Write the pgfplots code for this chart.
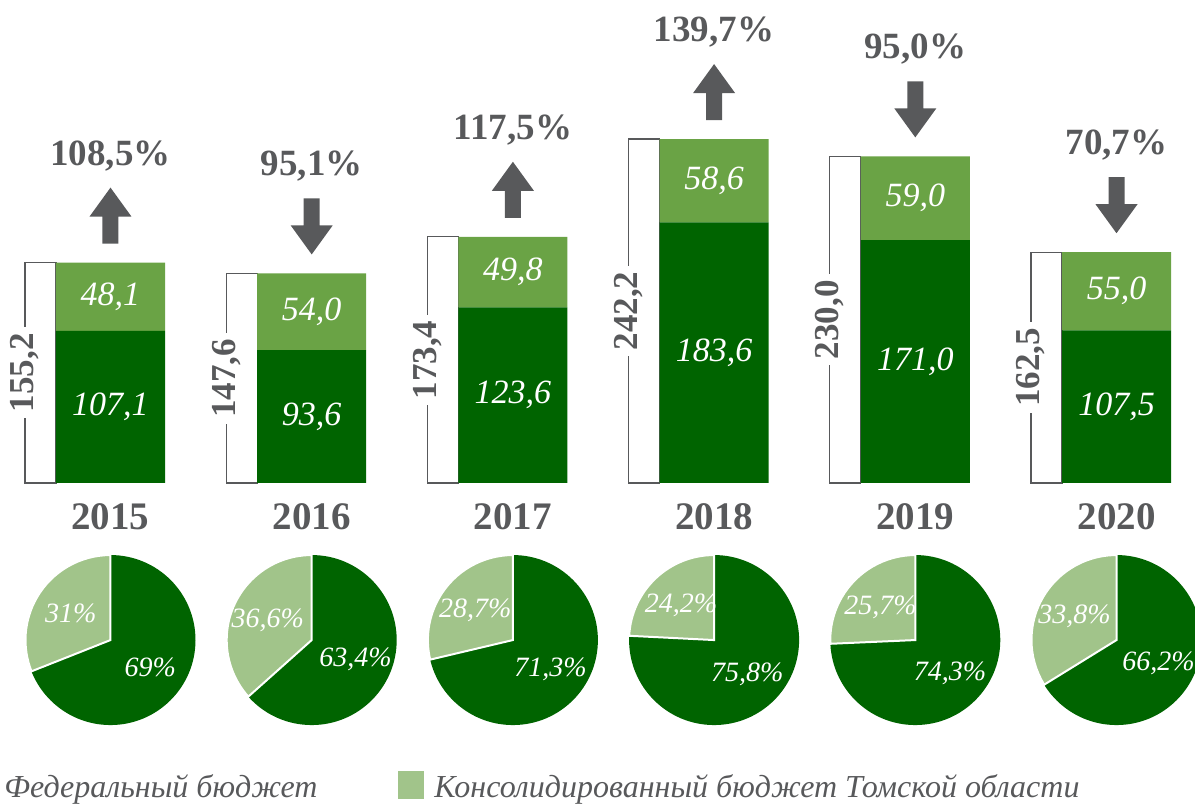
\documentclass[border=0pt]{standalone}
\usepackage{pgfplots}
\pgfplotsset{compat=1.18}
\usepackage{fontspec}
\setmainfont{Liberation Serif}

\definecolor{dkgreen}{HTML}{006400}
\definecolor{mdgreen}{HTML}{6AA345}
\definecolor{ltgreen}{HTML}{A1C48A}
\definecolor{txtgray}{HTML}{58595B}

% #1 position, #2 regional share (%), #3 light label, #4 dark label
\newcommand{\pie}[4]{%
  \fill[dkgreen] (axis cs:#1,-110.6) circle[radius=42.5pt];
  \filldraw[fill=ltgreen, draw=white, line width=1pt]
    (axis cs:#1,-110.6) -- ++(0pt,42.5pt)
    arc[start angle=90, end angle={90+3.6*#2}, radius=42.5pt] -- cycle;
  \node[pielbl] at ([shift={({90+1.8*#2}:24pt)}]axis cs:#1,-110.6) {#3};
  \node[pielbl] at ([shift={({270+1.8*#2}:24pt)}]axis cs:#1,-110.6) {#4};
}
% #1 position, #2 total, #3 label
\newcommand{\uparr}[3]{%
  \fill[txtgray] (axis cs:#1,#2) ++(-4pt,9.5pt) -- ++(8pt,0pt) -- ++(0pt,13.5pt)
    -- ++(6.5pt,0pt) -- ++(-10.5pt,14.5pt) -- ++(-10.5pt,-14.5pt) -- ++(6.5pt,0pt) -- cycle;
  \node[pct] at ([yshift=53.5pt]axis cs:#1,#2) {#3};
}
\newcommand{\dnarr}[3]{%
  \fill[txtgray] (axis cs:#1,#2) ++(-4pt,37.5pt) -- ++(8pt,0pt) -- ++(0pt,-13.5pt)
    -- ++(6.5pt,0pt) -- ++(-10.5pt,-14.5pt) -- ++(-10.5pt,14.5pt) -- ++(6.5pt,0pt) -- cycle;
  \node[pct] at ([yshift=53.5pt]axis cs:#1,#2) {#3};
}

\pgfplotstableread{
x federal regional total
0 107.1 48.1 155.2
1 93.6  54.0 147.6
2 123.6 49.8 173.4
3 183.6 58.6 242.2
4 171.0 59.0 230.0
5 107.5 55.0 162.5
}\budget

\pgfplotsset{frame/.style={hide axis, clip=false, scale only axis,
  width=597.5pt, height=402.5pt,
  xmin=-0.5492, xmax=5.3902, ymin=-226.76, ymax=340.14,
  anchor=south west, at={(0pt,0pt)}}}

\begin{document}
\begin{tikzpicture}[
  pct/.style={font=\fontsize{18.5}{21}\selectfont\bfseries, text=txtgray},
  yr/.style={font=\fontsize{19.5}{22}\selectfont\bfseries, text=txtgray},
  barlbl/.style={font=\fontsize{17}{20}\selectfont\itshape, text=white},
  pielbl/.style={font=\fontsize{14}{17}\selectfont\itshape, text=white},
  tot/.style={font=\fontsize{17.5}{20}\selectfont\bfseries, text=txtgray,
    rotate=90, fill=white, inner sep=3pt},
  leg/.style={anchor=base west, inner sep=0, text=txtgray,
    font=\fontsize{16}{19}\selectfont\itshape}]

% bracket boxes behind the bars
\begin{axis}[frame, ybar, bar width=15.5pt, bar shift=-35pt]
\addplot[fill=white, draw=txtgray, line width=0.6pt] table[x=x, y=total] {\budget};
\end{axis}

% stacked bars
\begin{axis}[frame, ybar stacked, bar width=54.5pt]
\addplot[fill=dkgreen, draw=none] table[x=x, y=federal] {\budget};
\addplot[fill=mdgreen, draw=none] table[x=x, y=regional] {\budget};
\end{axis}

% labels, arrows, pies, legend
\begin{axis}[frame]
\node[barlbl] at (axis cs:0,53.55) {107,1};
\node[barlbl] at (axis cs:0,131.15) {48,1};
\node[barlbl] at (axis cs:1,46.8) {93,6};
\node[barlbl] at (axis cs:1,120.6) {54,0};
\node[barlbl] at (axis cs:2,61.8) {123,6};
\node[barlbl] at (axis cs:2,148.5) {49,8};
\node[barlbl] at (axis cs:3,91.8) {183,6};
\node[barlbl] at (axis cs:3,212.9) {58,6};
\node[barlbl] at (axis cs:4,85.5) {171,0};
\node[barlbl] at (axis cs:4,200.5) {59,0};
\node[barlbl] at (axis cs:5,53.75) {107,5};
\node[barlbl] at (axis cs:5,135.0) {55,0};

\node[tot] at ([xshift=-42.75pt]axis cs:0,77.6) {155,2};
\node[tot] at ([xshift=-42.75pt]axis cs:1,73.8) {147,6};
\node[tot] at ([xshift=-42.75pt]axis cs:2,86.7) {173,4};
\node[tot] at ([xshift=-42.75pt]axis cs:3,121.1) {242,2};
\node[tot] at ([xshift=-42.75pt]axis cs:4,115.0) {230,0};
\node[tot] at ([xshift=-42.75pt]axis cs:5,81.25) {162,5};

\uparr{0}{155.2}{108,5\%}
\dnarr{1}{147.6}{95,1\%}
\uparr{2}{173.4}{117,5\%}
\uparr{3}{242.2}{139,7\%}
\dnarr{4}{230.0}{95,0\%}
\dnarr{5}{162.5}{70,7\%}

\node[yr] at ([yshift=-17pt]axis cs:0,0) {2015};
\node[yr] at ([yshift=-17pt]axis cs:1,0) {2016};
\node[yr] at ([yshift=-17pt]axis cs:2,0) {2017};
\node[yr] at ([yshift=-17pt]axis cs:3,0) {2018};
\node[yr] at ([yshift=-17pt]axis cs:4,0) {2019};
\node[yr] at ([yshift=-17pt]axis cs:5,0) {2020};

\pie{0}{31}{31\%}{69\%}
\pie{1}{36.6}{36,6\%}{63,4\%}
\pie{2}{28.7}{28,7\%}{71,3\%}
\pie{3}{24.2}{24,2\%}{75,8\%}
\pie{4}{25.7}{25,7\%}{74,3\%}
\pie{5}{33.8}{33,8\%}{66,2\%}

\node[leg] at (axis cs:-0.529,-221.8) {Федеральный бюджет};
\fill[ltgreen] (axis cs:1.429,-222.5) rectangle (axis cs:1.558,-202.8);
\node[leg] at (axis cs:1.608,-221.8) {Консолидированный бюджет Томской области};
\end{axis}

\pgfresetboundingbox
\path[use as bounding box] (0pt,0pt) rectangle (597.5pt,402.5pt);
\end{tikzpicture}
\end{document}
